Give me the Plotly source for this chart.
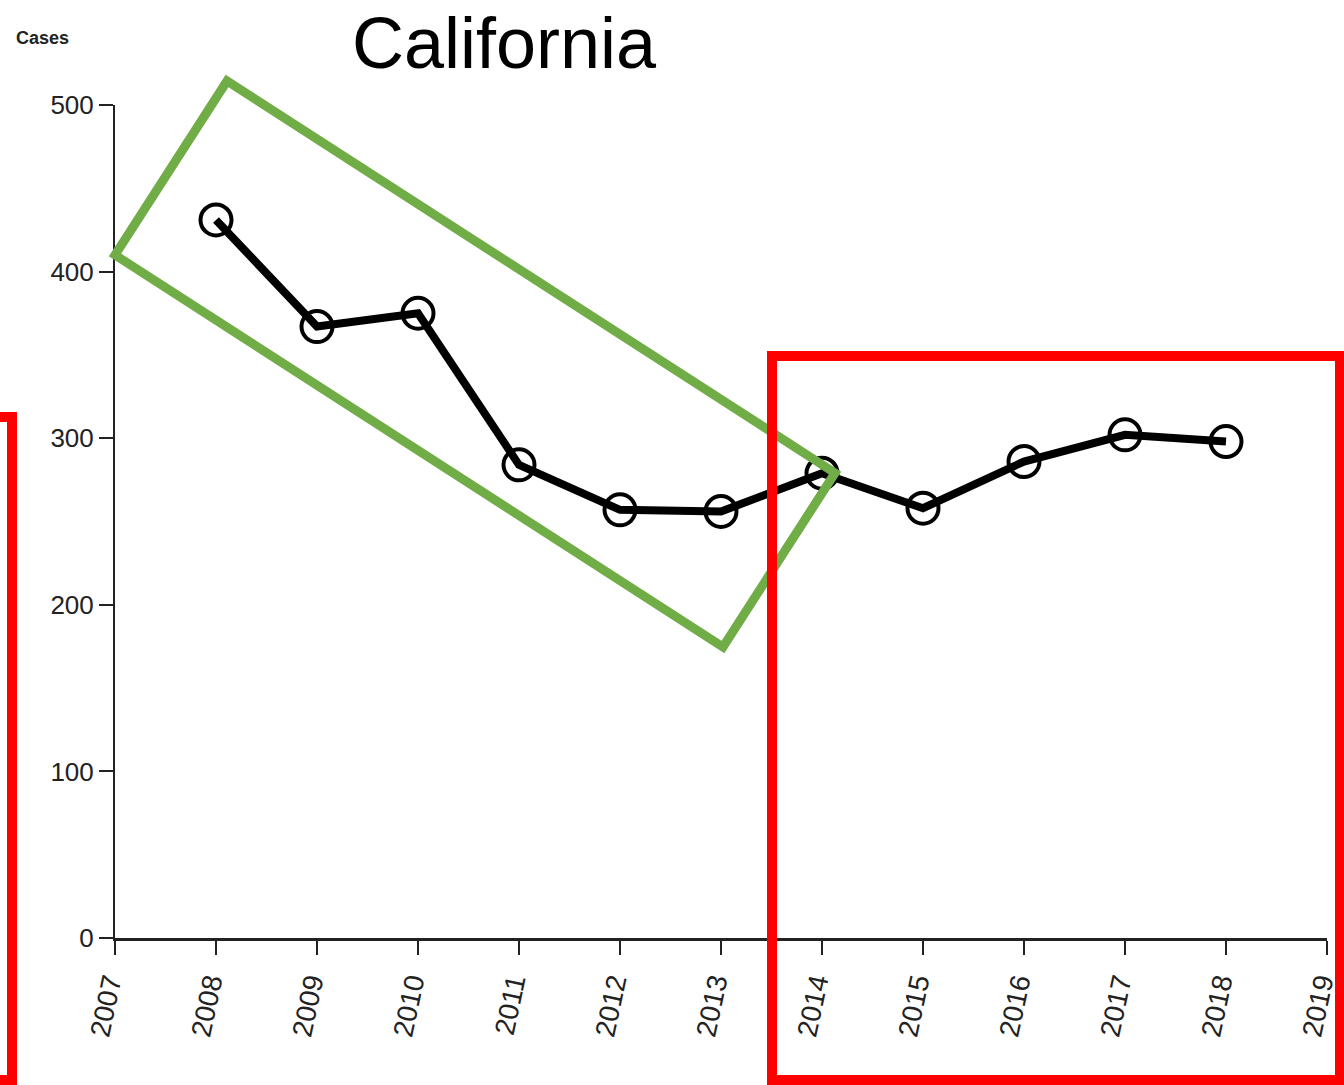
import plotly.graph_objects as go

years = [2008, 2009, 2010, 2011, 2012, 2013, 2014, 2015, 2016, 2017, 2018]
cases = [431, 367, 375, 284, 257, 256, 279, 258, 286, 302, 298]
x_ticks = list(range(2007, 2020))
y_ticks = [0, 100, 200, 300, 400, 500]

W, H = 1344, 1085
L, R, T, B = 115, 17, 105, 147
PW, PH = W - L - R, H - T - B


def px(x):
    return (x - L) / PW


def py(y):
    return (H - B - y) / PH


fig = go.Figure()
fig.add_trace(go.Scatter(
    x=years, y=cases, mode="lines+markers",
    line=dict(color="black", width=8),
    marker=dict(symbol="circle-open", size=31, color="black", line=dict(width=4, color="black")),
    showlegend=False, cliponaxis=False,
))

green = [(227, 81), (115, 255), (723, 647), (835, 473)]
path = "M " + " L ".join(f"{px(a)},{py(b)}" for a, b in green) + " Z"
shapes = [
    dict(type="path", xref="paper", yref="paper", path=path,
         line=dict(color="#70AD47", width=9), fillcolor="rgba(0,0,0,0)"),
    dict(type="rect", xref="paper", yref="paper",
         x0=px(772), x1=px(1340), y0=py(356), y1=py(1080),
         line=dict(color="#FF0000", width=10), fillcolor="rgba(0,0,0,0)"),
    dict(type="rect", xref="paper", yref="paper",
         x0=px(-40), x1=px(12), y0=py(417), y1=py(1080),
         line=dict(color="#FF0000", width=10), fillcolor="rgba(0,0,0,0)"),
]

fig.update_layout(
    width=W, height=H,
    margin=dict(l=L, r=R, t=T, b=B, autoexpand=False),
    plot_bgcolor="white", paper_bgcolor="white",
    shapes=shapes,
    annotations=[
        dict(text="California", xref="paper", yref="paper", x=px(504), y=py(43),
             xanchor="center", yanchor="middle", showarrow=False,
             font=dict(family="Liberation Sans, Arial", size=72, color="black")),
        dict(text="<b>Cases</b>", xref="paper", yref="paper", x=px(14), y=py(38),
             xanchor="left", yanchor="middle", showarrow=False,
             font=dict(family="Liberation Sans, Arial", size=18, color="#222")),
    ],
)
fig.update_xaxes(
    range=[2007, 2019], tickvals=x_ticks, ticktext=[str(v) for v in x_ticks],
    tickangle=-78, ticks="outside", ticklen=14, tickwidth=2, tickcolor="#222",
    showline=True, linecolor="#222", linewidth=3, showgrid=False, zeroline=False,
    ticklabeloverflow="allow", automargin=False, ticklabelshift=-7,
    tickfont=dict(family="Liberation Sans, Arial", size=28, color="#222"),
)
fig.update_yaxes(
    range=[0, 500], tickvals=y_ticks, ticks="outside", ticklen=14, tickwidth=2,
    tickcolor="#222", showline=True, linecolor="#222", linewidth=2,
    showgrid=False, zeroline=False, automargin=False,
    tickfont=dict(family="Liberation Sans, Arial", size=26, color="#222"),
)

fig.write_html(
    "out.html",
    config={"displayModeBar": False},
    post_script="document.body.style.margin='0';document.body.style.overflow='hidden';",
)
